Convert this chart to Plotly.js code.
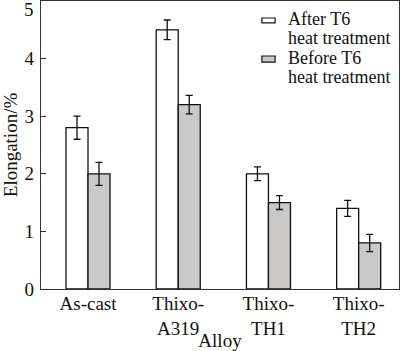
<!DOCTYPE html>
<html>
<head>
<meta charset="utf-8">
<script src="https://cdn.plot.ly/plotly-3.0.1.min.js"></script>
<style>html,body{margin:0;padding:0;background:#fff;}#chart{width:400px;height:351px;}</style>
</head>
<body>
<div id="chart"></div>
<script>
const categories = ["As-cast", "Thixo-<br>A319", "Thixo-<br>TH1", "Thixo-<br>TH2"];
const afterT6 = [2.8, 4.5, 2.0, 1.4];
const afterT6Err = [0.2, 0.17, 0.12, 0.14];
const beforeT6 = [2.0, 3.2, 1.5, 0.8];
const beforeT6Err = [0.2, 0.16, 0.12, 0.15];
const yTickVals = [0, 1, 2, 3, 4, 5];
const yTickText = ["0", "1", "2", "3", "4", ""];
const seriesFirstLine = ["After T6", "Before T6"];
const seriesSecondLine = ["heat treatment", "heat treatment"];
const seriesColors = ["#ffffff", "#cbc8c8"];

const font = "Liberation Serif";
const fs = 19;
const legFs = 18;
const lineCol = "#111";
const traces = [
  {type: "bar", x: categories, y: afterT6, name: seriesFirstLine[0] + " " + seriesSecondLine[0],
   marker: {color: seriesColors[0], line: {color: lineCol, width: 1.3}},
   error_y: {type: "data", array: afterT6Err, visible: true, color: lineCol, thickness: 1.3, width: 3.5}},
  {type: "bar", x: categories, y: beforeT6, name: seriesFirstLine[1] + " " + seriesSecondLine[1],
   marker: {color: seriesColors[1], line: {color: lineCol, width: 1.3}},
   error_y: {type: "data", array: beforeT6Err, visible: true, color: lineCol, thickness: 1.3, width: 3.5}}
];

// legend drawn as text + swatches (tight line spacing as in the reference)
const legX = 0.687;
const legRows = [0.9375, 0.8715, 0.802, 0.736];
const legAnn = [
  {x: legX, y: legRows[0], text: seriesFirstLine[0]},
  {x: legX, y: legRows[1], text: seriesSecondLine[0]},
  {x: legX, y: legRows[2], text: seriesFirstLine[1]},
  {x: legX, y: legRows[3], text: seriesSecondLine[1]}
].map(a => Object.assign({xref: "paper", yref: "paper", showarrow: false, xanchor: "left", yanchor: "middle",
                          borderpad: 0, font: {family: font, size: legFs, color: "#111"}}, a));
const annotations = legAnn.concat([
  // top y tick label, nudged inside the frame as in the reference
  {xref: "paper", yref: "y", x: 0, y: 5, text: "5", showarrow: false, xanchor: "right", yanchor: "middle",
   xshift: -6, yshift: -8, borderpad: 0, font: {family: font, size: fs, color: "#111"}}
]);
const shapes = [
  {type: "rect", xref: "paper", yref: "paper", x0: 0.617, x1: 0.654, y0: 0.924, y1: 0.941,
   fillcolor: seriesColors[0], line: {color: lineCol, width: 1.2}},
  {type: "rect", xref: "paper", yref: "paper", x0: 0.617, x1: 0.654, y0: 0.788, y1: 0.809,
   fillcolor: seriesColors[1], line: {color: lineCol, width: 1.2}}
];

const layout = {
  width: 400, height: 351,
  margin: {l: 41, r: 1, t: 1, b: 62},
  paper_bgcolor: "#fff", plot_bgcolor: "#fff",
  font: {family: font, size: fs, color: "#111"},
  barmode: "group", bargap: 0.512, bargroupgap: 0,
  showlegend: false,
  annotations: annotations,
  shapes: shapes,
  xaxis: {type: "category", range: [-0.521, 3.447], showline: true, mirror: true,
          linecolor: "#333", linewidth: 1.3, ticks: "", showgrid: false, zeroline: false,
          ticklabelstandoff: -3,
          tickfont: {family: font, size: fs, color: "#111"},
          title: {text: "Alloy", font: {family: font, size: fs, color: "#111"}, standoff: 2}},
  yaxis: {range: [0, 5], tickvals: yTickVals, ticktext: yTickText, showline: true, mirror: true,
          linecolor: "#333", linewidth: 1.3,
          ticks: "inside", ticklen: 5, tickcolor: "#333", showgrid: false, zeroline: false,
          ticklabelstandoff: 2,
          tickfont: {family: font, size: fs, color: "#111"},
          title: {text: "Elongation/%", font: {family: font, size: fs, color: "#111"}, standoff: 4}}
};
Plotly.newPlot("chart", traces, layout, {displayModeBar: false, staticPlot: true});
</script>
</body>
</html>
